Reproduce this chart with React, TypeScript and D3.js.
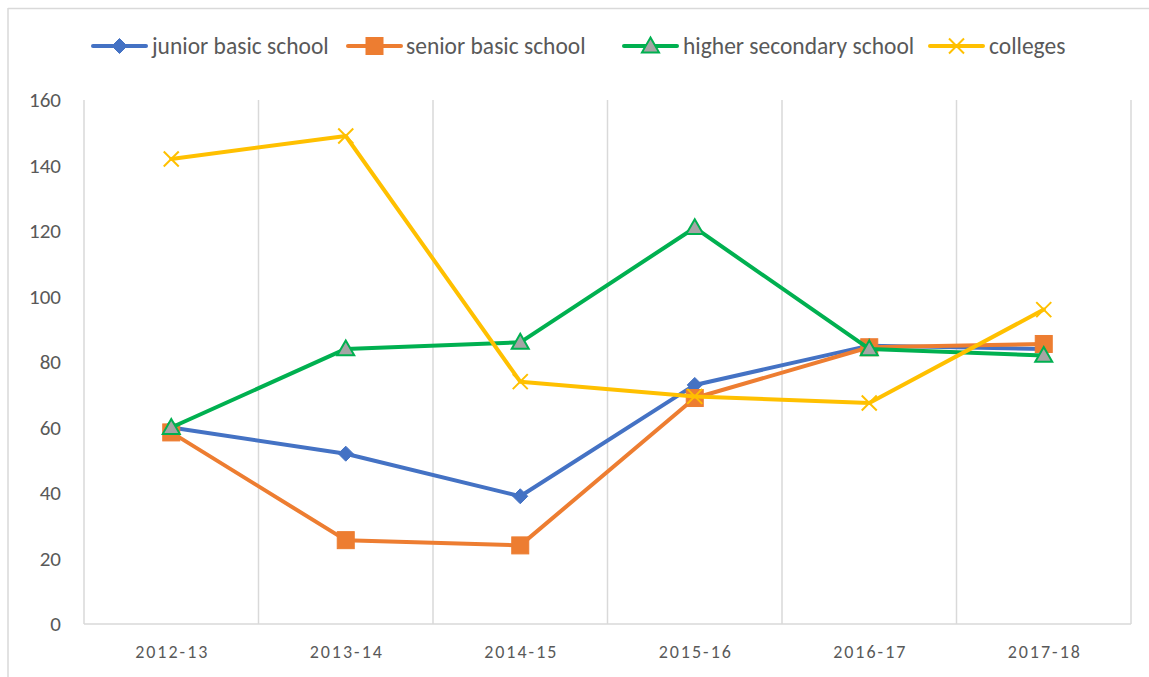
import React from "react";
import * as d3 from "d3";

const categories = ["2012-13", "2013-14", "2014-15", "2015-16", "2016-17", "2017-18"];
const juniorBasic = [60, 52, 39, 73, 85, 84];
const seniorBasic = [58.5, 25.6, 24, 69, 84.5, 85.5];
const higherSecondary = [60, 84, 86, 121, 84, 82];
const colleges = [142, 149, 74, 69.5, 67.5, 96];
const yTicks = [0, 20, 40, 60, 80, 100, 120, 140, 160];

const seriesNames = ["junior basic school", "senior basic school", "higher secondary school", "colleges"];

const W = 1149;
const H = 677;
const plot = { left: 84, right: 1131, top: 100, bottom: 624 };
const FONT = "Carlito, Calibri, Lato, 'Open Sans', sans-serif";

type MarkerKind = "diamond" | "square" | "triangle" | "x";

const seriesDefs: { name: string; values: number[]; color: string; marker: MarkerKind }[] = [
  { name: seriesNames[0], values: juniorBasic, color: "#4472C4", marker: "diamond" },
  { name: seriesNames[1], values: seniorBasic, color: "#ED7D31", marker: "square" },
  { name: seriesNames[2], values: higherSecondary, color: "#00B050", marker: "triangle" },
  { name: seriesNames[3], values: colleges, color: "#FFC000", marker: "x" },
];

function Marker({ kind, x, y, color }: { kind: MarkerKind; x: number; y: number; color: string }) {
  if (kind === "diamond") {
    const r = 7.5;
    return <path d={`M${x},${y - r}L${x + r},${y}L${x},${y + r}L${x - r},${y}Z`} fill={color} stroke={color} strokeWidth={1} />;
  }
  if (kind === "square") {
    const s = 8.5;
    return <rect x={x - s} y={y - s} width={2 * s} height={2 * s} fill={color} stroke={color} strokeWidth={1} />;
  }
  if (kind === "triangle") {
    const r = 8.5;
    return (
      <path
        d={`M${x},${y - r}L${x + r},${y + r * 0.75}L${x - r},${y + r * 0.75}Z`}
        fill="#A5A5A5"
        stroke={color}
        strokeWidth={2}
        strokeLinejoin="miter"
      />
    );
  }
  const r = 7.5;
  return (
    <path d={`M${x - r},${y - r}L${x + r},${y + r}M${x - r},${y + r}L${x + r},${y - r}`} stroke={color} strokeWidth={2} fill="none" />
  );
}

export default function App() {
  const x = d3.scaleBand<string>().domain(categories).range([plot.left, plot.right]);
  const y = d3.scaleLinear().domain([0, 160]).range([plot.bottom, plot.top]);
  const cx = (c: string) => (x(c) as number) + x.bandwidth() / 2;
  const line = d3
    .line<number>()
    .x((_, i) => cx(categories[i]))
    .y((v) => y(v));

  const legendItems = [
    { lineX: 93, textX: 152 },
    { lineX: 348, textX: 406 },
    { lineX: 624, textX: 683 },
    { lineX: 930, textX: 989 },
  ];
  const legendY = 46;

  return (
    <svg width={W} height={H} style={{ position: "absolute", left: 0, top: 0, background: "#fff" }}>
      <rect x={0} y={0} width={W} height={H} fill="#fff" />
      {/* chart frame */}
      <line x1={8} y1={8.5} x2={W} y2={8.5} stroke="#d9d9d9" strokeWidth={1.5} />
      <line x1={8} y1={8} x2={8} y2={H} stroke="#d9d9d9" strokeWidth={1.5} />

      {/* vertical gridlines */}
      {categories.map((c) => (
        <line
          key={"g" + c}
          x1={(x(c) as number) + x.bandwidth()}
          x2={(x(c) as number) + x.bandwidth()}
          y1={plot.top}
          y2={plot.bottom}
          stroke="#d9d9d9"
          strokeWidth={1.5}
        />
      ))}
      <line x1={plot.left} x2={plot.left} y1={plot.top} y2={plot.bottom} stroke="#d9d9d9" strokeWidth={1.5} />
      <line x1={plot.left} x2={plot.right} y1={plot.bottom} y2={plot.bottom} stroke="#d9d9d9" strokeWidth={1.5} />

      {/* y ticks */}
      {yTicks.map((t) => (
        <text key={"y" + t} x={61} y={y(t)} dy="0.35em" textAnchor="end" fontFamily={FONT} fontSize={21} fill="#595959">
          {t}
        </text>
      ))}

      {/* x ticks */}
      {categories.map((c) => (
        <text
          key={"x" + c}
          x={cx(c) + 1}
          y={652}
          dy="0.35em"
          textAnchor="middle"
          fontFamily={FONT}
          fontSize={18}
          letterSpacing={2}
          fill="#595959"
        >
          {c}
        </text>
      ))}

      {/* series */}
      {seriesDefs.map((s) => (
        <g key={s.name}>
          <path d={line(s.values) as string} fill="none" stroke={s.color} strokeWidth={4} strokeLinejoin="round" strokeLinecap="round" />
          {s.values.map((v, i) => (
            <Marker key={i} kind={s.marker} x={cx(categories[i])} y={y(v)} color={s.color} />
          ))}
        </g>
      ))}

      {/* legend */}
      {seriesDefs.map((s, i) => {
        const it = legendItems[i];
        return (
          <g key={"l" + s.name}>
            <line x1={it.lineX} x2={it.lineX + 53} y1={legendY} y2={legendY} stroke={s.color} strokeWidth={4} strokeLinecap="round" />
            <Marker kind={s.marker} x={it.lineX + 26.5} y={legendY} color={s.color} />
            <text x={it.textX} y={legendY} dy="0.35em" fontFamily={FONT} fontSize={23.5} fill="#595959">
              {s.name}
            </text>
          </g>
        );
      })}
    </svg>
  );
}
